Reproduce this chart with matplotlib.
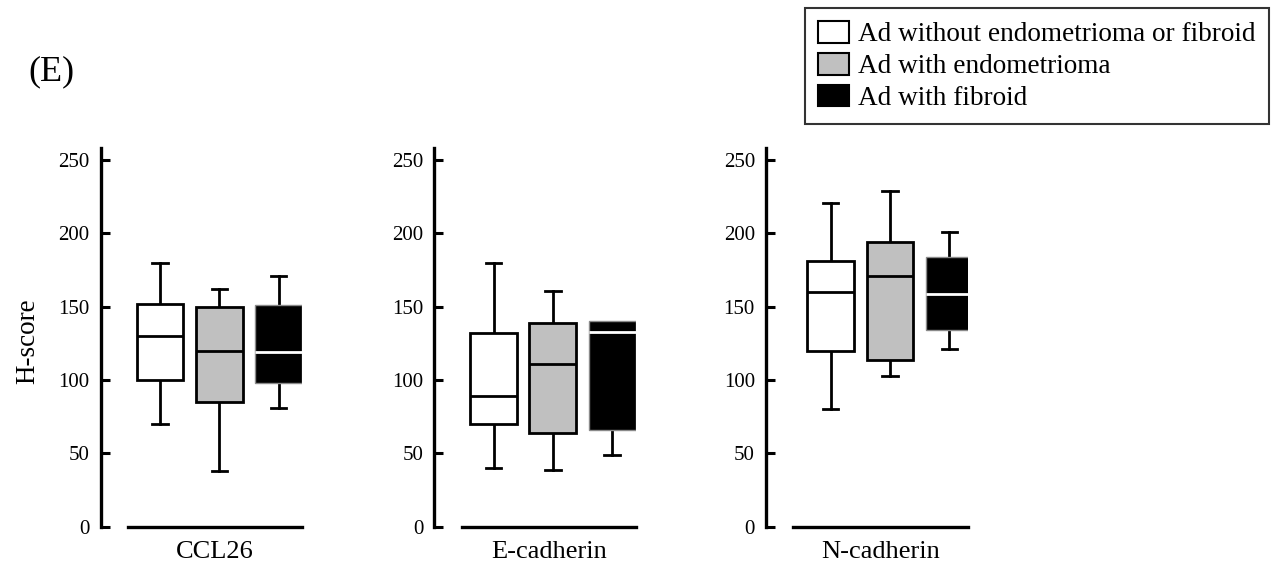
import matplotlib.pyplot as plt
from matplotlib.patches import Patch

plt.rcParams['font.family'] = ['Liberation Serif', 'DejaVu Serif']

markers = ['CCL26', 'E-cadherin', 'N-cadherin']
groups = ['Ad without endometrioma or fibroid', 'Ad with endometrioma', 'Ad with fibroid']

# box statistics per marker, one entry per group: (whislo, q1, med, q3, whishi)
ccl26 = [(70, 100, 130, 152, 180), (38, 85, 120, 150, 162), (81, 98, 119, 151, 171)]
e_cadherin = [(40, 70, 89, 132, 180), (39, 64, 111, 139, 161), (49, 66, 133, 140, 140)]
n_cadherin = [(80, 120, 160, 181, 221), (103, 114, 171, 194, 229), (121, 134, 159, 184, 201)]

yticks = [0, 50, 100, 150, 200, 250]

fills = ['white', '#c0c0c0', 'black']
edges = ['black', 'black', '#8a8a8a']
med_colors = ['black', 'black', 'white']

fig = plt.figure(figsize=(12.71, 5.68), dpi=100)

lefts = [100.7, 434.3, 766]
x0s = [0, 0, -0.09]
W, H = 1271, 568
for i, (name, stats) in enumerate(zip(markers, [ccl26, e_cadherin, n_cadherin])):
    ax = fig.add_axes([lefts[i] / W, 41.3 / H, 201.6 / W, 378.4 / H])
    for j, (lo, q1, med, q3, hi) in enumerate(stats):
        d = dict(whislo=lo, q1=q1, med=med, q3=q3, whishi=hi, fliers=[])
        bp = ax.bxp([d], positions=[j + 1], widths=0.79, showfliers=False,
                    patch_artist=True, capwidths=0.26,
                    boxprops=dict(facecolor=fills[j], edgecolor=edges[j],
                                  linewidth=2.0 if j < 2 else 1.0, zorder=2),
                    medianprops=dict(color=med_colors[j], linewidth=2.0, zorder=3),
                    whiskerprops=dict(color='black', linewidth=2.0, zorder=1),
                    capprops=dict(color='black', linewidth=2.0, zorder=1))
        # no upper whisker when the maximum sits on the box edge
        if hi <= q3:
            bp['caps'][1].set_visible(False)
    ax.set_xlim(x0s[i], 3.4 + x0s[i])
    ax.set_ylim(0, 258)
    ax.set_yticks(yticks)
    ax.tick_params(axis='y', direction='in', length=6.5, width=2.2,
                   pad=8, labelsize=15)
    ax.set_xticks([(0.46 + 3.4) / 2 + x0s[i]])
    ax.set_xticklabels([name])
    ax.tick_params(axis='x', length=0, pad=10, labelsize=19)
    for s in ['top', 'right']:
        ax.spines[s].set_visible(False)
    ax.spines['left'].set_linewidth(2.4)
    ax.spines['bottom'].set_linewidth(2.4)
    ax.spines['bottom'].set_bounds(0.46 + x0s[i], 3.4 + x0s[i])
    ax.patch.set_visible(False)
    if i == 0:
        ax.set_ylabel('H-score', fontsize=19.5)
        ax.yaxis.set_label_coords(-0.30, 0.49)

fig.text(28 / W, 1 - 72 / H, '(E)', fontsize=26, va='center', ha='left')

handles = [Patch(facecolor=fills[k], edgecolor='black', linewidth=1.5) for k in range(3)]
leg = fig.legend(handles, groups, loc='upper right',
                 bbox_to_anchor=(1269 / W, 1 - 8 / H), fontsize=19.6,
                 frameon=True, fancybox=False, edgecolor='black',
                 handlelength=1.17, handleheight=0.85, handletextpad=0.33,
                 labelspacing=0.2, borderpad=0.48, borderaxespad=0)
leg.get_frame().set_linewidth(1.5)

fig.savefig('out.png', dpi=100)
